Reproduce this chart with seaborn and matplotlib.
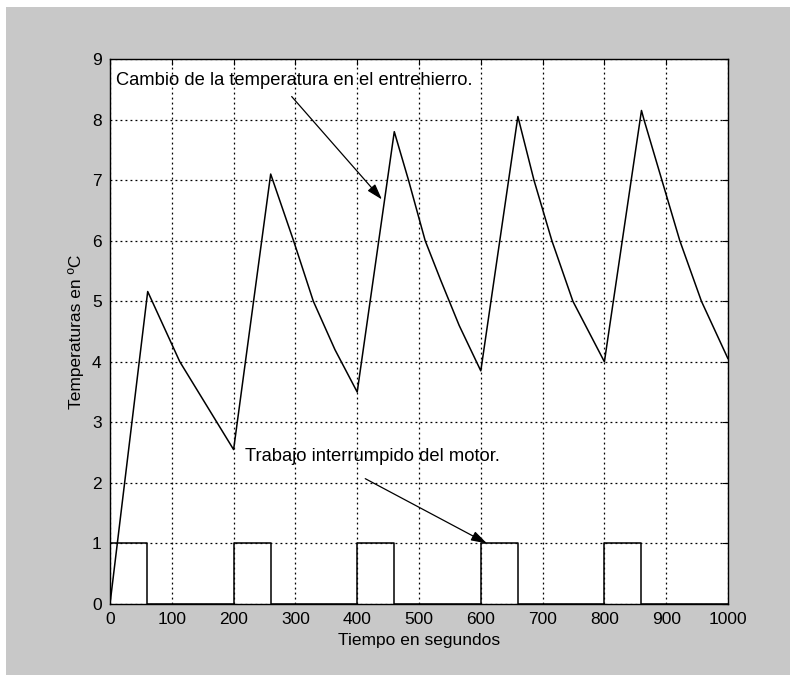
import matplotlib
matplotlib.use("Agg")
import matplotlib.pyplot as plt
import matplotlib.patches as mpatches
import seaborn as sns
import pandas as pd

# Temperature curve (time in s, temperature in ºC)
temp_t = [0, 61, 113, 173, 200, 260, 297, 329, 364, 400, 460, 483, 510, 535, 565, 600,
          660, 686, 715, 749, 800, 860, 864, 893, 922, 957, 1000]
temp_v = [0.0, 5.16, 4.0, 3.0, 2.55, 7.1, 6.0, 5.0, 4.2, 3.5, 7.8, 7.0, 6.0, 5.35, 4.6, 3.85,
          8.05, 7.0, 6.0, 5.0, 4.0, 8.15, 8.0, 7.0, 6.0, 5.0, 4.05]

# Motor working intervals (on / off times), level 1 when working
on_times = [0, 200, 400, 600, 800]
off_times = [60, 260, 460, 660, 860]
t_end = 1000

xticks = [0, 100, 200, 300, 400, 500, 600, 700, 800, 900, 1000]
yticks = [0, 1, 2, 3, 4, 5, 6, 7, 8, 9]

label_temp = "Cambio de la temperatura en el entrehierro."
label_motor = "Trabajo interrumpido del motor."
xlabel = "Tiempo en segundos"
ylabel = "Temperaturas en ºC"

# build step table for pulses
pt, pv = [], []
for a, b in zip(on_times, off_times):
    pt += [a, a, b, b]
    pv += [0, 1, 1, 0]
pt.append(t_end)
pv.append(0)

df_temp = pd.DataFrame({"t": temp_t, "v": temp_v})
df_pulse = pd.DataFrame({"t": pt, "v": pv})

sns.set_theme(style="white")
plt.rcParams["font.family"] = ["Liberation Sans", "DejaVu Sans"]

W, H = 790, 675
fig = plt.figure(figsize=(W / 100, H / 100), dpi=100)
fig.patch.set_facecolor("white")
bg = mpatches.Rectangle((6 / W, 0), 1 - 6 / W, 1 - 7 / H, transform=fig.transFigure,
                        facecolor="#c8c8c8", edgecolor="none", zorder=-10)
fig.patches.append(bg)

ax = fig.add_axes([110 / W, 1 - 604 / H, (728 - 110) / W, (604 - 59) / H])
ax.set_facecolor("white")

sns.lineplot(data=df_temp, x="t", y="v", ax=ax, color="black", lw=1.1, sort=False,
             estimator=None)
sns.lineplot(data=df_pulse, x="t", y="v", ax=ax, color="black", lw=1.1, sort=False,
             estimator=None)

ax.set_xlim(0, 1000)
ax.set_ylim(0, 9)
ax.set_xticks(xticks)
ax.set_yticks(yticks)
ax.set_xticklabels([str(x) for x in xticks])
ax.set_yticklabels([str(y) for y in yticks])
ax.grid(True, color="black", linestyle=(0, (1.5, 2.5)), linewidth=0.9)
ax.tick_params(direction="in", length=4, width=0.8, colors="black", labelsize=12.5,
               top=True, right=True, pad=6)
for s in ax.spines.values():
    s.set_visible(True)
    s.set_color("black")
    s.set_linewidth(1.0)

ax.set_xlabel(xlabel, fontsize=12.5, color="black", labelpad=4)
ax.set_ylabel(ylabel, fontsize=12.5, color="black", labelpad=6)

ax.text(10, 8.65, label_temp, fontsize=13.2, ha="left", va="center", color="black")
ax.annotate("", xy=(440, 6.68), xytext=(294, 8.38),
            arrowprops=dict(arrowstyle="-|>,head_length=0.8,head_width=0.25",
                            color="black", lw=0.9, shrinkA=0, shrinkB=0))
ax.text(218, 2.43, label_motor, fontsize=13.2, ha="left", va="center", color="black")
ax.annotate("", xy=(610, 1.0), xytext=(413, 2.07),
            arrowprops=dict(arrowstyle="-|>,head_length=0.8,head_width=0.25",
                            color="black", lw=0.9, shrinkA=0, shrinkB=0))

fig.savefig("out.png", dpi=100)
